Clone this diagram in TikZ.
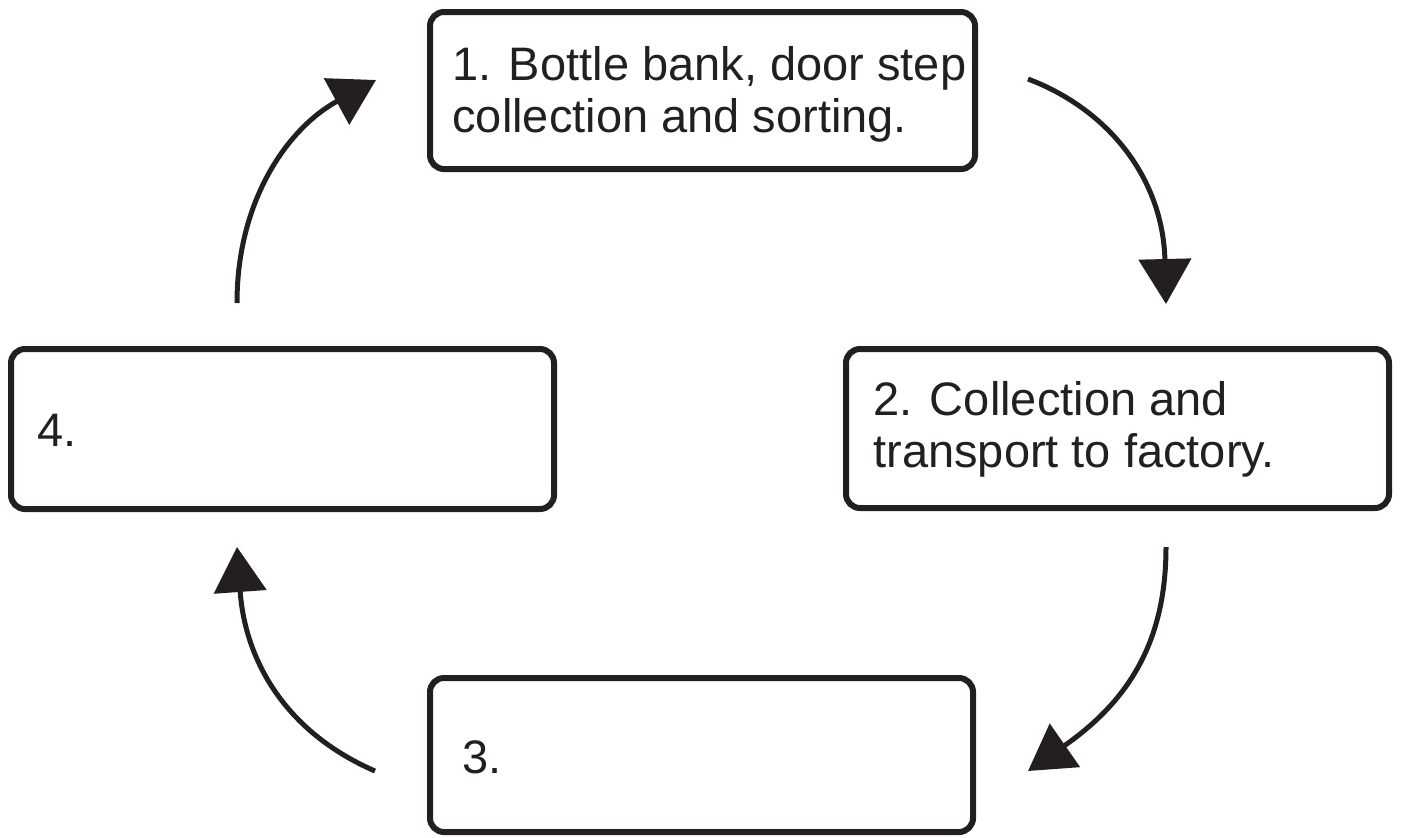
\documentclass[tikz,border=0pt]{standalone}
\usepackage{fontspec}
\setmainfont{Liberation Sans}
\usetikzlibrary{arrows.meta}
\definecolor{ink}{RGB}{35,31,32}
\tikzset{
  box/.style={draw=ink, line width=3pt, rounded corners=7pt, inner sep=0pt},
  lbl/.style={text=ink, font=\fontsize{23.5}{26}\selectfont, align=left, inner sep=0pt, anchor=base west},
  flow/.style={draw=ink, line width=2.5pt, -{Triangle[length=22.5pt,width=26pt]}}
}
\begin{document}
\begin{tikzpicture}[x=0.5pt,y=-0.5pt]
\useasboundingbox (0,0) rectangle (1403,837);
\node[box, minimum width=272.5pt, minimum height=78.5pt] (b1) at (702.5,90.5) {};
\node[box, minimum width=271.5pt, minimum height=79.5pt] (b2) at (1117.5,428.5) {};
\node[box, minimum width=271.5pt, minimum height=77pt] (b3) at (701.5,755) {};
\node[box, minimum width=271.5pt, minimum height=80pt] (b4) at (282.5,429) {};
\node[lbl] (t1) at (452,132) {1. Bottle bank, door step\\collection and sorting.};
\node[lbl] (t2) at (873,467) {2. Collection and\\transport to factory.};
\node[lbl] (t3) at (462,773) {3.};
\node[lbl] (t4) at (37,446) {4.};
\coordinate (aS) at (1028,79);  \coordinate (aE) at (1166,304);
\coordinate (bS) at (1166,547); \coordinate (bE) at (1028,771);
\coordinate (cS) at (375,771);  \coordinate (cE) at (237,547);
\coordinate (dS) at (237,303);  \coordinate (dE) at (376,80);
\draw[flow] (aS) .. controls (1110,110) and (1163,180) .. (aE);
\draw[flow] (bS) .. controls (1166,640) and (1130,700) .. (bE);
\draw[flow] (cS) .. controls (285,732) and (245,660) .. (cE);
\draw[flow] (dS) .. controls (237,200) and (288,128) .. (dE);
\end{tikzpicture}
\end{document}
